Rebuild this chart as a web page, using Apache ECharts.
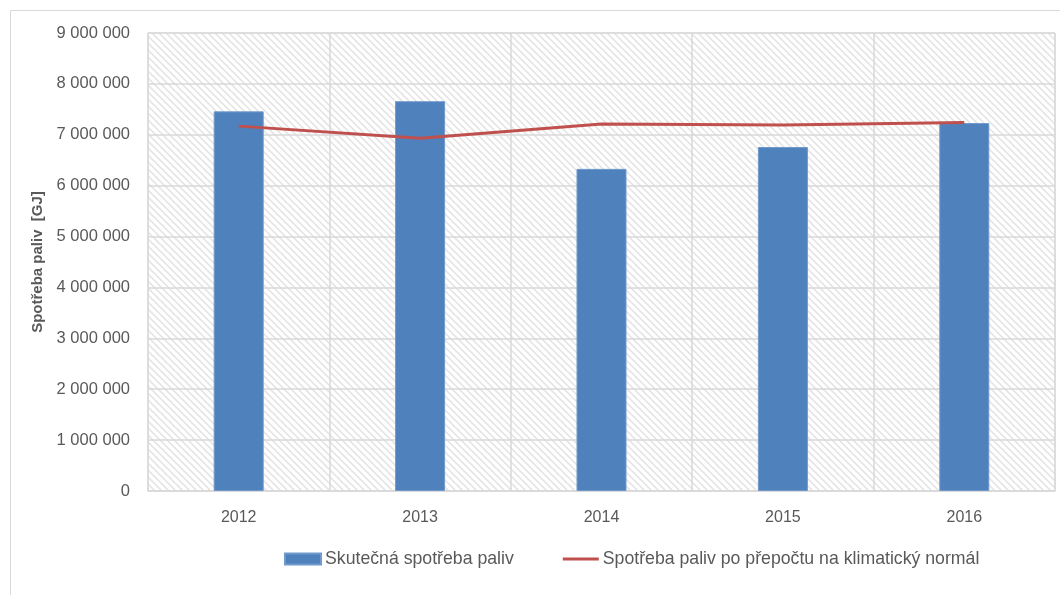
<!DOCTYPE html>
<html><head><meta charset="utf-8">
<script src="https://cdn.jsdelivr.net/npm/echarts@6/dist/echarts.min.js"></script>
<style>html,body{margin:0;padding:0;background:#fff}#c{width:1060px;height:595px}</style>
</head><body><div id="c"></div>
<script>
const categories = ['2012','2013','2014','2015','2016'];
const actual = [7460000, 7660000, 6330000, 6760000, 7230000];
const normalized = [7170000, 6930000, 7210000, 7190000, 7240000];
const seriesNames = ['Skutečná spotřeba paliv','Spotřeba paliv po přepočtu na klimatický normál'];
const yAxisName = 'Spotřeba paliv  [GJ]';

function hatch(){
  const c = document.createElement('canvas');
  const s = 7;
  c.width = s; c.height = s;
  const g = c.getContext('2d');
  g.fillStyle = '#ffffff'; g.fillRect(0,0,s,s);
  g.strokeStyle = '#e2e2e2'; g.lineWidth = 1.5;
  g.beginPath();
  g.moveTo(-2,-2); g.lineTo(s+2,s+2);
  g.moveTo(-2,s-2); g.lineTo(2,s+2);
  g.moveTo(s-2,-2); g.lineTo(s+2,2);
  g.stroke();
  return c;
}
function fmt(v){ return String(v).replace(/\B(?=(\d{3})+(?!\d))/g,' '); }

const chart = echarts.init(document.getElementById('c'));
const font = 'Liberation Sans, sans-serif';
chart.setOption({
  animation:false,
  backgroundColor:'#fff',
  graphic:[{type:'rect',shape:{x:10.5,y:10.5,width:1100,height:700},style:{fill:null,stroke:'#d9d9d9',lineWidth:1},z:-1}],
  grid:{left:148,right:5,top:33,bottom:104,show:true,backgroundColor:{image:hatch(),repeat:'repeat'},borderColor:'#d9d9d9',borderWidth:1},
  legend:{bottom:22,left:279,itemGap:49,itemWidth:36,itemHeight:11,
    textStyle:{fontFamily:font,fontSize:17.7,color:'#595959',padding:[0,0,0,-1]},
    data:[{name:seriesNames[0],icon:'rect'},{name:seriesNames[1],icon:'path://M0,0 L36,0 L36,3 L0,3 Z'}]},
  xAxis:{type:'category',data:categories,
    axisLine:{lineStyle:{color:'#d9d9d9',width:1.5}},axisTick:{show:false},
    splitLine:{show:true,lineStyle:{color:'#d9d9d9',width:1.5}},
    axisLabel:{fontFamily:font,fontSize:16,color:'#595959',margin:19}},
  yAxis:{type:'value',min:0,max:9000000,interval:1000000,
    name:yAxisName,nameLocation:'middle',nameGap:102,nameRotate:90,
    nameTextStyle:{fontFamily:font,fontSize:15,fontWeight:'bold',color:'#595959'},
    axisLine:{show:false},axisTick:{show:false},
    splitLine:{lineStyle:{color:'#d9d9d9',width:1.5}},
    axisLabel:{fontFamily:font,fontSize:16.5,color:'#595959',margin:18,formatter:fmt}},
  series:[
    {name:seriesNames[0],type:'bar',data:actual,barWidth:50,
     itemStyle:{color:'#4f81bd',borderColor:'#7099cc',borderWidth:1}},
    {name:seriesNames[1],type:'line',data:normalized,symbol:'none',
     lineStyle:{color:'#c0504d',width:3},itemStyle:{color:'#c0504d'}}
  ]
});
</script></body></html>
